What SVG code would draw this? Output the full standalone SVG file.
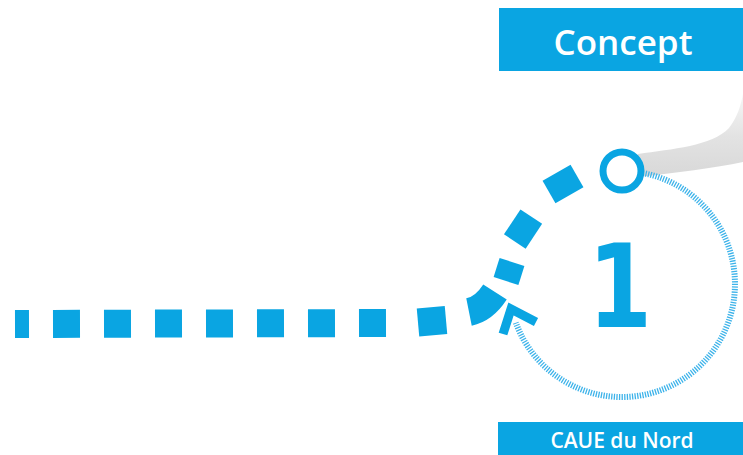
<svg xmlns="http://www.w3.org/2000/svg" width="743" height="455" viewBox="0 0 743 455">
  <style>
    .box { fill: #0aa5e2; }
    .lbl { fill: #ffffff; font-family: "Open Sans", "Liberation Sans", sans-serif; text-anchor: middle; font-weight: 600; }
    .dash { stroke: #0aa5e2; fill: none; stroke-width: 28; stroke-linecap: butt; }
  </style>
  <defs>
    <linearGradient id="swoosh" x1="0" y1="0" x2="0" y2="1">
      <stop offset="0" stop-color="#f6f6f6"/>
      <stop offset="0.5" stop-color="#e3e3e3"/>
      <stop offset="1" stop-color="#d8d8d8"/>
    </linearGradient>
  </defs>
  <rect width="743" height="455" fill="#ffffff"/>

  <g id="swoosh-shape">
    <path d="M 638 154 C 672 149, 712 146, 729 128 C 737 118, 741 105, 743 94 L 743 162 C 715 168, 675 173, 638 177 Z" fill="url(#swoosh)"/>
  </g>

  <g id="connectors">
    <path class="dash" d="M 15 324 L 388 323" stroke-dasharray="27 24" stroke-dashoffset="13"/>
    <path class="dash" d="M 418 322.5 L 446 320"/>
    <path class="dash" d="M 469 312 Q 484 309 495 292"/>
    <path class="dash" d="M 506 281 L 512 262" style="stroke-width:26"/>
    <path class="dash" d="M 514.8 241.5 L 531.3 216.6" style="stroke-width:26"/>
    <path class="dash" d="M 549 192 L 577 176" style="stroke-width:26"/>
    <path d="M 645.5 173.5 A 113 113 0 1 1 515.8 322.7" fill="none" stroke="#3db3ea" stroke-width="6" stroke-dasharray="1.3 1.3"/>
    <polyline points="503,334 511,309 536,322" fill="none" stroke="#0aa5e2" stroke-width="9" stroke-linejoin="miter"/>
  </g>

  <g id="start-node">
    <circle cx="622" cy="171" r="19" fill="#ffffff" stroke="#0aa5e2" stroke-width="7"/>
  </g>

  <g id="step-1">
    <text transform="translate(620,327) scale(0.8,1)" x="0" y="0" font-family="'DejaVu Sans', sans-serif" font-weight="bold" font-size="115" fill="#0aa5e2" text-anchor="middle">1</text>
  </g>

  <g id="concept">
    <rect class="box" x="499" y="8" width="244" height="63"/>
    <text class="lbl" x="623" y="55" font-size="35">Concept</text>
  </g>

  <g id="caue">
    <rect class="box" x="498" y="422" width="245" height="33"/>
    <text class="lbl" x="622" y="448" font-size="21">CAUE du Nord</text>
  </g>
</svg>
